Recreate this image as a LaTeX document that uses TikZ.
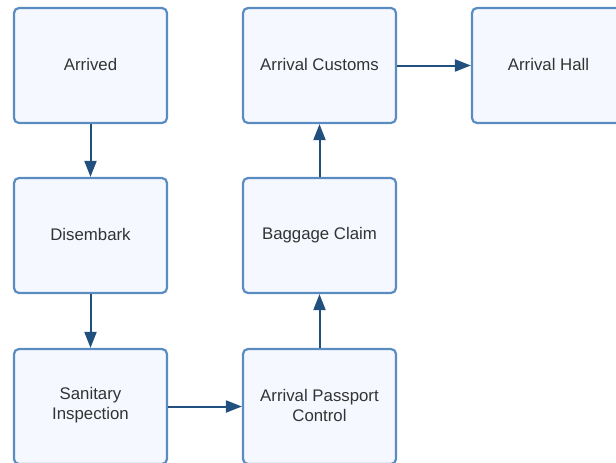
\documentclass[tikz,border=0pt]{standalone}
\usepackage{fontspec}
\setmainfont{Liberation Sans}
\usetikzlibrary{arrows.meta}
\definecolor{boxfill}{HTML}{F5F9FF}
\definecolor{boxline}{HTML}{5A8CC2}
\definecolor{arrowcol}{HTML}{21507F}
\definecolor{txt}{HTML}{333333}
\begin{document}
\begin{tikzpicture}[x=1pt,y=-1pt,
  stepbox/.style={draw=boxline, line width=2.2pt, fill=boxfill, rounded corners=5pt,
    minimum width=153pt, minimum height=115pt, inner sep=0pt},
  lbl/.style={text=txt, font=\fontsize{16.8pt}{20pt}\selectfont, align=center, inner sep=0pt},
  flow/.style={draw=arrowcol, line width=2pt, -{Triangle[length=16pt,width=12pt]}}]
\useasboundingbox (0,0) rectangle (616,463);
\clip (0,0) rectangle (616,463);
\node[stepbox] (arrived) at (90.5,65.5) {};
\node[stepbox] (disembark) at (90.5,235.5) {};
\node[stepbox] (sanitary) at (90.5,406.5) {};
\node[stepbox] (passport) at (319.5,406.5) {};
\node[stepbox] (baggage) at (319.5,235.5) {};
\node[stepbox] (customs) at (319.5,65.5) {};
\node[stepbox] (hall) at (548.5,65.5) {};
\node[lbl] (arrivedT) at ([yshift=1pt]arrived.center) {Arrived};
\node[lbl] (disembarkT) at ([yshift=1pt]disembark.center) {Disembark};
\node[lbl] (sanitaryT) at ([yshift=1pt]sanitary.center) {Sanitary\\Inspection};
\node[lbl] (passportT) at ([yshift=1pt]passport.center) {Arrival Passport\\Control};
\node[lbl] (baggageT) at ([yshift=0pt]baggage.center) {Baggage Claim};
\node[lbl] (customsT) at ([yshift=1pt]customs.center) {Arrival Customs};
\node[lbl] (hallT) at ([yshift=1pt]hall.center) {Arrival Hall};
\draw[flow] (arrived) -- (disembark);
\draw[flow] (disembark) -- (sanitary);
\draw[flow] (sanitary) -- (passport);
\draw[flow] (passport) -- (baggage);
\draw[flow] (baggage) -- (customs);
\draw[flow] (customs) -- (hall);
\end{tikzpicture}
\end{document}
